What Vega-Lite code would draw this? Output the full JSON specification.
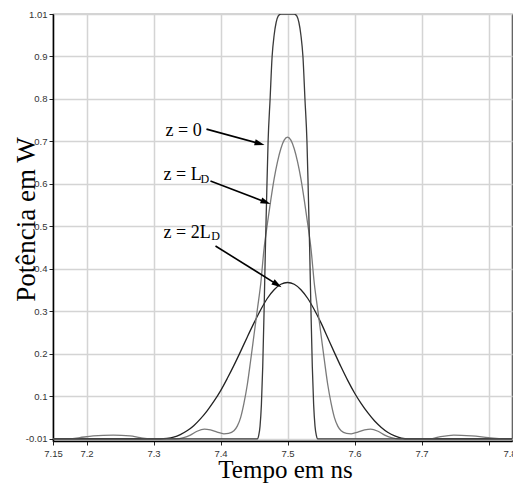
{
  "$schema": "https://vega.github.io/schema/vega-lite/v6.json",
  "width": 459,
  "height": 427,
  "autosize": "none",
  "padding": {"left": 53, "top": 14, "right": 1, "bottom": 46},
  "background": "white",
  "config": {
    "view": {"stroke": "#555", "strokeWidth": 1.2},
    "axis": {
      "gridColor": "#d4d4d4",
      "gridWidth": 1.5,
      "domainColor": "#000",
      "domainWidth": 1.5,
      "tickColor": "#222",
      "tickSize": 4,
      "labelFont": "Liberation Sans",
      "labelFontSize": 9.5,
      "labelColor": "#333",
      "titleFont": "Liberation Serif",
      "titleFontSize": 25,
      "titleFontWeight": "normal",
      "titleColor": "#000"
    }
  },
  "datasets": {
    "curves": [
      {"curve": "z2L", "t": 7.15, "p": 0},
      {"curve": "z2L", "t": 7.31, "p": 0},
      {"curve": "z2L", "t": 7.32, "p": 0.001},
      {"curve": "z2L", "t": 7.33, "p": 0.004},
      {"curve": "z2L", "t": 7.34, "p": 0.010},
      {"curve": "z2L", "t": 7.35, "p": 0.019},
      {"curve": "z2L", "t": 7.36, "p": 0.031},
      {"curve": "z2L", "t": 7.37, "p": 0.047},
      {"curve": "z2L", "t": 7.38, "p": 0.066},
      {"curve": "z2L", "t": 7.39, "p": 0.088},
      {"curve": "z2L", "t": 7.40, "p": 0.113},
      {"curve": "z2L", "t": 7.41, "p": 0.142},
      {"curve": "z2L", "t": 7.42, "p": 0.173},
      {"curve": "z2L", "t": 7.43, "p": 0.206},
      {"curve": "z2L", "t": 7.44, "p": 0.240},
      {"curve": "z2L", "t": 7.45, "p": 0.273},
      {"curve": "z2L", "t": 7.46, "p": 0.304},
      {"curve": "z2L", "t": 7.47, "p": 0.331},
      {"curve": "z2L", "t": 7.48, "p": 0.351},
      {"curve": "z2L", "t": 7.49, "p": 0.364},
      {"curve": "z2L", "t": 7.50, "p": 0.368},
      {"curve": "z2L", "t": 7.51, "p": 0.364},
      {"curve": "z2L", "t": 7.52, "p": 0.351},
      {"curve": "z2L", "t": 7.53, "p": 0.331},
      {"curve": "z2L", "t": 7.54, "p": 0.304},
      {"curve": "z2L", "t": 7.55, "p": 0.273},
      {"curve": "z2L", "t": 7.56, "p": 0.238},
      {"curve": "z2L", "t": 7.57, "p": 0.203},
      {"curve": "z2L", "t": 7.58, "p": 0.169},
      {"curve": "z2L", "t": 7.59, "p": 0.137},
      {"curve": "z2L", "t": 7.60, "p": 0.108},
      {"curve": "z2L", "t": 7.61, "p": 0.083},
      {"curve": "z2L", "t": 7.62, "p": 0.061},
      {"curve": "z2L", "t": 7.63, "p": 0.042},
      {"curve": "z2L", "t": 7.64, "p": 0.027},
      {"curve": "z2L", "t": 7.65, "p": 0.015},
      {"curve": "z2L", "t": 7.66, "p": 0.007},
      {"curve": "z2L", "t": 7.67, "p": 0.002},
      {"curve": "z2L", "t": 7.68, "p": 0},
      {"curve": "z2L", "t": 7.835, "p": 0},

      {"curve": "zL", "t": 7.15, "p": 0},
      {"curve": "zL", "t": 7.175, "p": 0},
      {"curve": "zL", "t": 7.19, "p": 0.003},
      {"curve": "zL", "t": 7.21, "p": 0.007},
      {"curve": "zL", "t": 7.24, "p": 0.009},
      {"curve": "zL", "t": 7.265, "p": 0.007},
      {"curve": "zL", "t": 7.28, "p": 0.003},
      {"curve": "zL", "t": 7.295, "p": 0},
      {"curve": "zL", "t": 7.333, "p": 0},
      {"curve": "zL", "t": 7.345, "p": 0.003},
      {"curve": "zL", "t": 7.355, "p": 0.009},
      {"curve": "zL", "t": 7.365, "p": 0.018},
      {"curve": "zL", "t": 7.376, "p": 0.023},
      {"curve": "zL", "t": 7.385, "p": 0.021},
      {"curve": "zL", "t": 7.395, "p": 0.016},
      {"curve": "zL", "t": 7.405, "p": 0.012},
      {"curve": "zL", "t": 7.412, "p": 0.013},
      {"curve": "zL", "t": 7.420, "p": 0.019},
      {"curve": "zL", "t": 7.425, "p": 0.030},
      {"curve": "zL", "t": 7.430, "p": 0.050},
      {"curve": "zL", "t": 7.435, "p": 0.084},
      {"curve": "zL", "t": 7.440, "p": 0.128},
      {"curve": "zL", "t": 7.445, "p": 0.185},
      {"curve": "zL", "t": 7.450, "p": 0.245},
      {"curve": "zL", "t": 7.455, "p": 0.305},
      {"curve": "zL", "t": 7.460, "p": 0.365},
      {"curve": "zL", "t": 7.465, "p": 0.448},
      {"curve": "zL", "t": 7.470, "p": 0.507},
      {"curve": "zL", "t": 7.475, "p": 0.562},
      {"curve": "zL", "t": 7.480, "p": 0.612},
      {"curve": "zL", "t": 7.485, "p": 0.652},
      {"curve": "zL", "t": 7.490, "p": 0.683},
      {"curve": "zL", "t": 7.495, "p": 0.703},
      {"curve": "zL", "t": 7.500, "p": 0.710},
      {"curve": "zL", "t": 7.505, "p": 0.703},
      {"curve": "zL", "t": 7.510, "p": 0.683},
      {"curve": "zL", "t": 7.515, "p": 0.652},
      {"curve": "zL", "t": 7.520, "p": 0.612},
      {"curve": "zL", "t": 7.525, "p": 0.562},
      {"curve": "zL", "t": 7.530, "p": 0.507},
      {"curve": "zL", "t": 7.535, "p": 0.448},
      {"curve": "zL", "t": 7.540, "p": 0.365},
      {"curve": "zL", "t": 7.545, "p": 0.305},
      {"curve": "zL", "t": 7.550, "p": 0.245},
      {"curve": "zL", "t": 7.555, "p": 0.185},
      {"curve": "zL", "t": 7.560, "p": 0.128},
      {"curve": "zL", "t": 7.565, "p": 0.084},
      {"curve": "zL", "t": 7.570, "p": 0.050},
      {"curve": "zL", "t": 7.575, "p": 0.030},
      {"curve": "zL", "t": 7.580, "p": 0.019},
      {"curve": "zL", "t": 7.588, "p": 0.013},
      {"curve": "zL", "t": 7.595, "p": 0.012},
      {"curve": "zL", "t": 7.605, "p": 0.016},
      {"curve": "zL", "t": 7.615, "p": 0.021},
      {"curve": "zL", "t": 7.624, "p": 0.023},
      {"curve": "zL", "t": 7.635, "p": 0.018},
      {"curve": "zL", "t": 7.645, "p": 0.009},
      {"curve": "zL", "t": 7.655, "p": 0.003},
      {"curve": "zL", "t": 7.667, "p": 0},
      {"curve": "zL", "t": 7.713, "p": 0},
      {"curve": "zL", "t": 7.725, "p": 0.004},
      {"curve": "zL", "t": 7.748, "p": 0.009},
      {"curve": "zL", "t": 7.775, "p": 0.007},
      {"curve": "zL", "t": 7.800, "p": 0.003},
      {"curve": "zL", "t": 7.822, "p": 0},
      {"curve": "zL", "t": 7.835, "p": 0},

      {"curve": "z0", "t": 7.15, "p": 0},
      {"curve": "z0", "t": 7.455, "p": 0},
      {"curve": "z0", "t": 7.457, "p": 0.008},
      {"curve": "z0", "t": 7.459, "p": 0.03},
      {"curve": "z0", "t": 7.461, "p": 0.08},
      {"curve": "z0", "t": 7.463, "p": 0.17},
      {"curve": "z0", "t": 7.465, "p": 0.30},
      {"curve": "z0", "t": 7.467, "p": 0.45},
      {"curve": "z0", "t": 7.469, "p": 0.58},
      {"curve": "z0", "t": 7.471, "p": 0.70},
      {"curve": "z0", "t": 7.474, "p": 0.80},
      {"curve": "z0", "t": 7.477, "p": 0.90},
      {"curve": "z0", "t": 7.480, "p": 0.95},
      {"curve": "z0", "t": 7.483, "p": 0.98},
      {"curve": "z0", "t": 7.486, "p": 0.995},
      {"curve": "z0", "t": 7.490, "p": 1.0},
      {"curve": "z0", "t": 7.510, "p": 1.0},
      {"curve": "z0", "t": 7.514, "p": 0.995},
      {"curve": "z0", "t": 7.517, "p": 0.98},
      {"curve": "z0", "t": 7.520, "p": 0.95},
      {"curve": "z0", "t": 7.523, "p": 0.90},
      {"curve": "z0", "t": 7.526, "p": 0.80},
      {"curve": "z0", "t": 7.529, "p": 0.70},
      {"curve": "z0", "t": 7.531, "p": 0.58},
      {"curve": "z0", "t": 7.533, "p": 0.45},
      {"curve": "z0", "t": 7.535, "p": 0.30},
      {"curve": "z0", "t": 7.537, "p": 0.17},
      {"curve": "z0", "t": 7.539, "p": 0.08},
      {"curve": "z0", "t": 7.541, "p": 0.03},
      {"curve": "z0", "t": 7.543, "p": 0.008},
      {"curve": "z0", "t": 7.545, "p": 0},
      {"curve": "z0", "t": 7.835, "p": 0}
    ],
    "arrows": [
      {"id": 1, "t": 7.379, "p": 0.729, "t2": 7.4657, "p2": 0.6918, "ht": 7.4585, "hp": 0.6949},
      {"id": 2, "t": 7.385, "p": 0.607, "t2": 7.4746, "p2": 0.553, "ht": 7.4676, "hp": 0.5572},
      {"id": 3, "t": 7.3925, "p": 0.454, "t2": 7.491, "p2": 0.357, "ht": 7.4847, "hp": 0.3632}
    ],
    "labels": [
      {"t": 7.318, "p": 0.713, "label": "z = 0"},
      {"t": 7.315, "p": 0.609, "label": "z = L"},
      {"t": 7.315, "p": 0.472, "label": "z = 2L"}
    ],
    "subs": [
      {"t": 7.3702, "p": 0.603, "label": "D"},
      {"t": 7.386, "p": 0.467, "label": "D"}
    ]
  },
  "layer": [
    {
      "data": {"name": "curves"},
      "mark": {"type": "line", "interpolate": "monotone", "strokeWidth": 1.3, "clip": true},
      "encoding": {
        "x": {
          "field": "t", "type": "quantitative",
          "scale": {"domain": [7.15, 7.835], "nice": false, "zero": false},
          "axis": {
            "title": "Tempo em ns",
            "titleFontSize": 25,
            "values": [7.15, 7.2, 7.3, 7.4, 7.5, 7.6, 7.7, 7.8],
            "labelExpr": "format(datum.value, '.2~f')",
            "labelFlush": false,
            "labelPadding": 3,
            "labelOffset": {"condition": {"test": "datum.value > 7.79", "value": 21}, "value": 0},
            "titleBaseline": "alphabetic",
            "titleY": 36,
            "titleX": 232
          }
        },
        "y": {
          "field": "p", "type": "quantitative",
          "scale": {"domain": [-0.005, 1.0], "nice": false, "zero": false},
          "axis": {
            "title": "Potência em W",
            "titleFontSize": 27,
            "values": [0, 0.1, 0.2, 0.3, 0.4, 0.5, 0.6, 0.7, 0.8, 0.9, 1.0],
            "labelExpr": "datum.value == 0 ? '-0.01' : datum.value == 1 ? '1.01' : format(datum.value, '.1f')",
            "labelPadding": 2,
            "titleBaseline": "alphabetic",
            "titleX": -19,
            "titleY": 205
          }
        },
        "color": {
          "field": "curve", "type": "nominal",
          "scale": {"domain": ["z0", "zL", "z2L"], "range": ["#3a3a3a", "#7a7a7a", "#222222"]},
          "legend": null
        },
        "detail": {"field": "curve"}
      }
    },
    {
      "data": {"name": "arrows"},
      "mark": {"type": "rule", "color": "#000", "strokeWidth": 1.6},
      "encoding": {
        "x": {"field": "t", "type": "quantitative"},
        "y": {"field": "p", "type": "quantitative"},
        "x2": {"field": "ht"},
        "y2": {"field": "hp"}
      }
    },
    {
      "data": {"name": "arrows"},
      "transform": [{"filter": "datum.id == 1"}],
      "mark": {"type": "point", "shape": "M1,0L-1,-0.62L-1,0.62Z", "filled": true, "color": "#000", "opacity": 1, "size": 100, "angle": 15.2},
      "encoding": {
        "x": {"field": "ht", "type": "quantitative"},
        "y": {"field": "hp", "type": "quantitative"}
      }
    },
    {
      "data": {"name": "arrows"},
      "transform": [{"filter": "datum.id == 2"}],
      "mark": {"type": "point", "shape": "M1,0L-1,-0.62L-1,0.62Z", "filled": true, "color": "#000", "opacity": 1, "size": 100, "angle": 20.9},
      "encoding": {
        "x": {"field": "ht", "type": "quantitative"},
        "y": {"field": "hp", "type": "quantitative"}
      }
    },
    {
      "data": {"name": "arrows"},
      "transform": [{"filter": "datum.id == 3"}],
      "mark": {"type": "point", "shape": "M1,0L-1,-0.62L-1,0.62Z", "filled": true, "color": "#000", "opacity": 1, "size": 100, "angle": 32},
      "encoding": {
        "x": {"field": "ht", "type": "quantitative"},
        "y": {"field": "hp", "type": "quantitative"}
      }
    },
    {
      "data": {"name": "labels"},
      "mark": {"type": "text", "align": "left", "baseline": "alphabetic", "font": "Liberation Serif", "fontSize": 18, "color": "#000"},
      "encoding": {
        "x": {"field": "t", "type": "quantitative"},
        "y": {"field": "p", "type": "quantitative"},
        "text": {"field": "label"}
      }
    },
    {
      "data": {"name": "subs"},
      "mark": {"type": "text", "align": "left", "baseline": "alphabetic", "font": "Liberation Serif", "fontSize": 12, "color": "#000"},
      "encoding": {
        "x": {"field": "t", "type": "quantitative"},
        "y": {"field": "p", "type": "quantitative"},
        "text": {"field": "label"}
      }
    }
  ]
}
